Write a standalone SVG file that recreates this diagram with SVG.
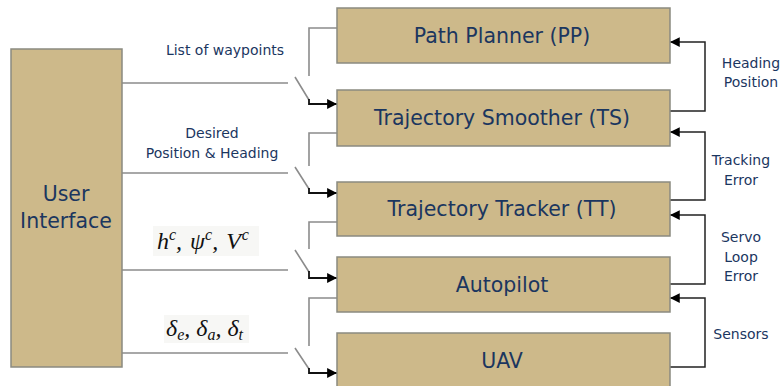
<svg xmlns="http://www.w3.org/2000/svg" width="782" height="386" viewBox="0 0 782 386">
<defs>
<marker id="ah" viewBox="0 0 10 10" refX="10" refY="5" markerWidth="5.5" markerHeight="5.5" orient="auto" markerUnits="strokeWidth"><path d="M0,0 L10,5 L0,10 z" fill="#000"/></marker>
<marker id="ah2" viewBox="0 0 10 10" refX="10" refY="5" markerWidth="6.5" markerHeight="6.5" orient="auto" markerUnits="strokeWidth"><path d="M0,0 L10,5 L0,10 z" fill="#000"/></marker>
</defs>
<style>
.box{fill:#cdb98a;stroke:#8a8a80;stroke-width:1.5}
.bt{font-family:"DejaVu Sans",Verdana,sans-serif;font-size:20.5px;fill:#1b365f;text-anchor:middle}
.lt{font-family:"DejaVu Sans",Verdana,sans-serif;font-size:14px;fill:#1b365f;text-anchor:middle}
.gl{fill:none;stroke:#8c8c8c;stroke-width:1.6}
.ar{fill:none;stroke:#111;stroke-width:1.8;marker-end:url(#ah)}
.fb{fill:none;stroke:#222;stroke-width:1.5;marker-end:url(#ah2)}
.m{font-family:"Liberation Serif","DejaVu Serif",serif;font-style:italic;font-size:24px;fill:#111}
.ms{font-size:16px}
</style>
<rect width="782" height="386" fill="#fff"/>
<g id="connectors">
<path class="gl" d="M122,83 H288 M122,173 H288 M122,270 H288 M122,353 H288"/>
<path class="gl" d="M295,77 L309,100 M295,167 L309,189 M295,250 L309,272 M295,348 L309,369"/>
<path class="gl" d="M337,28 H309 V76 M337,133 H309 V166 M337,222 H309 V249 M337,298 H309 V346"/>
<path class="ar" d="M309,99 V104 H337"/>
<path class="ar" d="M309,188 V193 H337"/>
<path class="ar" d="M309,271 V278 H337"/>
<path class="ar" d="M309,368 V373 H337"/>
<path class="fb" d="M670,111 H705 V42 H670"/>
<path class="fb" d="M670,200 H705 V132 H670"/>
<path class="fb" d="M670,284 H705 V215 H670"/>
<path class="fb" d="M670,367 H705 V298 H670"/>
</g>
<g id="ui"><rect class="box" x="11" y="49" width="111" height="318"/><text class="bt" x="66" y="201">User</text><text class="bt" x="66" y="228">Interface</text></g>
<g id="pp"><rect class="box" x="337" y="8" width="333" height="55"/><text class="bt" x="502" y="43">Path Planner (PP)</text></g>
<g id="ts"><rect class="box" x="337" y="90" width="333" height="56"/><text class="bt" x="502" y="125">Trajectory Smoother (TS)</text></g>
<g id="tt"><rect class="box" x="337" y="182" width="333" height="54"/><text class="bt" x="502" y="216">Trajectory Tracker (TT)</text></g>
<g id="ap"><rect class="box" x="337" y="257" width="333" height="55"/><text class="bt" x="502" y="292">Autopilot</text></g>
<g id="uav"><rect class="box" x="337" y="333" width="333" height="56"/><text class="bt" x="502" y="368">UAV</text></g>
<g id="labels">
<text class="lt" x="225" y="55">List of waypoints</text>
<text class="lt" x="212" y="138">Desired</text>
<text class="lt" x="212" y="158">Position &amp; Heading</text>
<rect x="153" y="226" width="106" height="30" fill="#f7f7f5"/>
<text class="m" x="157" y="249">h<tspan class="ms" dy="-9">c</tspan><tspan dy="9">, </tspan><tspan dx="2">ψ</tspan><tspan class="ms" dy="-9">c</tspan><tspan dy="9">, </tspan><tspan dx="2">V</tspan><tspan class="ms" dy="-9" dx="1">c</tspan></text>
<rect x="164" y="315" width="85" height="28" fill="#f7f7f5"/>
<text class="m" x="166" y="336">δ<tspan class="ms" dy="4">e</tspan><tspan dy="-4">, δ</tspan><tspan class="ms" dy="4">a</tspan><tspan dy="-4">, δ</tspan><tspan class="ms" dy="4">t</tspan></text>
<text class="lt" x="751" y="68">Heading</text>
<text class="lt" x="751" y="87">Position</text>
<text class="lt" x="741" y="165">Tracking</text>
<text class="lt" x="741" y="185">Error</text>
<text class="lt" x="741" y="242">Servo</text>
<text class="lt" x="741" y="262">Loop</text>
<text class="lt" x="741" y="281">Error</text>
<text class="lt" x="741" y="339">Sensors</text>
</g>
</svg>
